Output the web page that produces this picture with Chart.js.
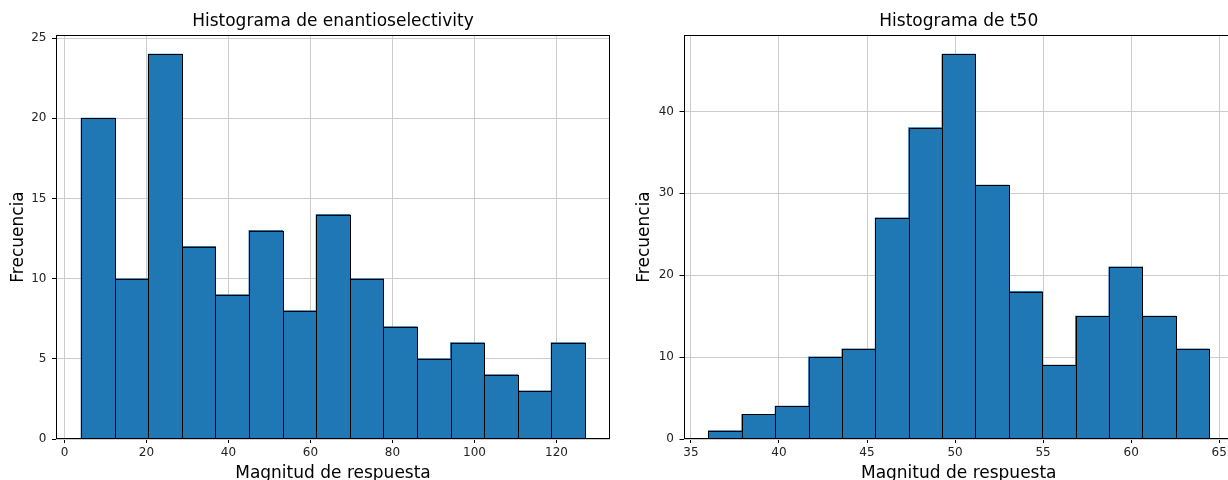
<!DOCTYPE html>
<html><head><meta charset="utf-8">
<script src="https://cdn.jsdelivr.net/npm/chart.js@4/dist/chart.umd.min.js"></script>
<style>
html,body{margin:0;padding:0;background:#fff;overflow:hidden;width:1228px;height:480px;}
#c1{position:absolute;left:0;top:0;}
#c2{position:absolute;left:614px;top:0;}
</style></head><body>
<canvas id="c1" width="614" height="484"></canvas>
<canvas id="c2" width="650" height="484"></canvas>
<script>
// ---- data ----
const enantioEdges  = [4.07, 12.26, 20.45, 28.64, 36.83, 45.02, 53.21, 61.40, 69.59, 77.78, 85.97, 94.16, 102.35, 110.54, 118.73, 126.92];
const enantioCounts = [20, 10, 24, 12, 9, 13, 8, 14, 10, 7, 5, 6, 4, 3, 6];
const enantioXTicks = [0, 20, 40, 60, 80, 100, 120];
const enantioYTicks = [0, 5, 10, 15, 20, 25];

const t50Edges  = [36.00, 37.89, 39.79, 41.68, 43.58, 45.47, 47.37, 49.26, 51.16, 53.05, 54.95, 56.84, 58.74, 60.63, 62.53, 64.42];
const t50Counts = [1, 3, 4, 10, 11, 27, 38, 47, 31, 18, 9, 15, 21, 15, 11];
const t50XTicks = [35, 40, 45, 50, 55, 60, 65];
const t50YTicks = [0, 10, 20, 30, 40];

const FONT = "'DejaVu Sans', sans-serif";

// outlines each bar (from the library's bar elements) and draws the axes frame
const framePlugin = {
  id: 'frame',
  afterDatasetsDraw(chart) {
    const {ctx, chartArea: a} = chart;
    ctx.save();
    ctx.strokeStyle = '#000';
    ctx.lineWidth = 1;
    const meta = chart.getDatasetMeta(0);
    meta.data.forEach(el => {
      const p = el.getProps(['x', 'y', 'base', 'width'], true);
      const l = Math.round(p.x - p.width / 2) + 0.5;
      const r = Math.round(p.x + p.width / 2) + 0.5;
      const t = Math.round(p.y) + 0.5;
      const b = Math.round(p.base) - 0.5;
      ctx.strokeRect(l, t, r - l, b - t);
    });
    const l = Math.round(a.left) + 0.5, t = Math.round(a.top) + 0.5;
    const r = Math.round(a.right) - 0.5, b = Math.round(a.bottom) - 0.5;
    ctx.strokeRect(l, t, r - l, b - t);
    ctx.restore();
  }
};

function makeHist(id, edges, counts, xTicks, yTicks, title, yAxisWidth, yTitlePad, rightPad) {
  const span = edges[edges.length - 1] - edges[0];
  const xMin = edges[0] - 0.05 * span;
  const xMax = edges[edges.length - 1] + 0.05 * span;
  const yMax = Math.max(...counts) * 1.05;
  const pts = counts.map((c, i) => ({x: (edges[i] + edges[i + 1]) / 2, y: c}));
  const grid = {color: '#cccccc', lineWidth: 1, tickColor: '#000', tickLength: 4, offset: false};
  return new Chart(document.getElementById(id), {
    type: 'bar',
    data: {
      datasets: [{
        data: pts,
        backgroundColor: '#1f77b4',
        borderWidth: 0,
        borderSkipped: false,
        inflateAmount: 0.5,
        barPercentage: 1,
        categoryPercentage: 1
      }]
    },
    options: {
      responsive: false,
      animation: false,
      layout: {padding: {left: 0, top: 0, bottom: 0, right: rightPad}},
      plugins: {
        legend: {display: false},
        tooltip: {enabled: false},
        title: {
          display: true, text: title, fullSize: false, color: '#000',
          font: {family: FONT, size: 17, weight: 'normal'},
          padding: {top: 11, bottom: 3.5}
        }
      },
      scales: {
        x: {
          type: 'linear', offset: false, min: xMin, max: xMax,
          afterBuildTicks: s => { s.ticks = xTicks.map(v => ({value: v})); },
          afterFit: s => { s.height = 45; },
          grid: grid,
          border: {display: false},
          ticks: {font: {family: FONT, size: 12}, color: '#222', padding: 3, maxRotation: 0, autoSkip: false},
          title: {display: true, text: 'Magnitud de respuesta', color: '#000',
                  font: {family: FONT, size: 17}, padding: {top: 0, bottom: 0}}
        },
        y: {
          type: 'linear', min: 0, max: yMax,
          afterBuildTicks: s => { s.ticks = yTicks.map(v => ({value: v})); },
          afterFit: s => { s.width = yAxisWidth; },
          grid: grid,
          border: {display: false},
          ticks: {font: {family: FONT, size: 12}, color: '#222', padding: 5.5},
          title: {display: true, text: 'Frecuencia', color: '#000',
                  font: {family: FONT, size: 17}, padding: {top: yTitlePad, bottom: 0}}
        }
      }
    },
    plugins: [framePlugin]
  });
}

makeHist('c1', enantioEdges, enantioCounts, enantioXTicks, enantioYTicks,
         'Histograma de enantioselectivity', 56, 8.3, 4);
makeHist('c2', t50Edges, t50Counts, t50XTicks, t50YTicks,
         'Histograma de t50', 69.5, 20.8, 30);
</script>
</body></html>
